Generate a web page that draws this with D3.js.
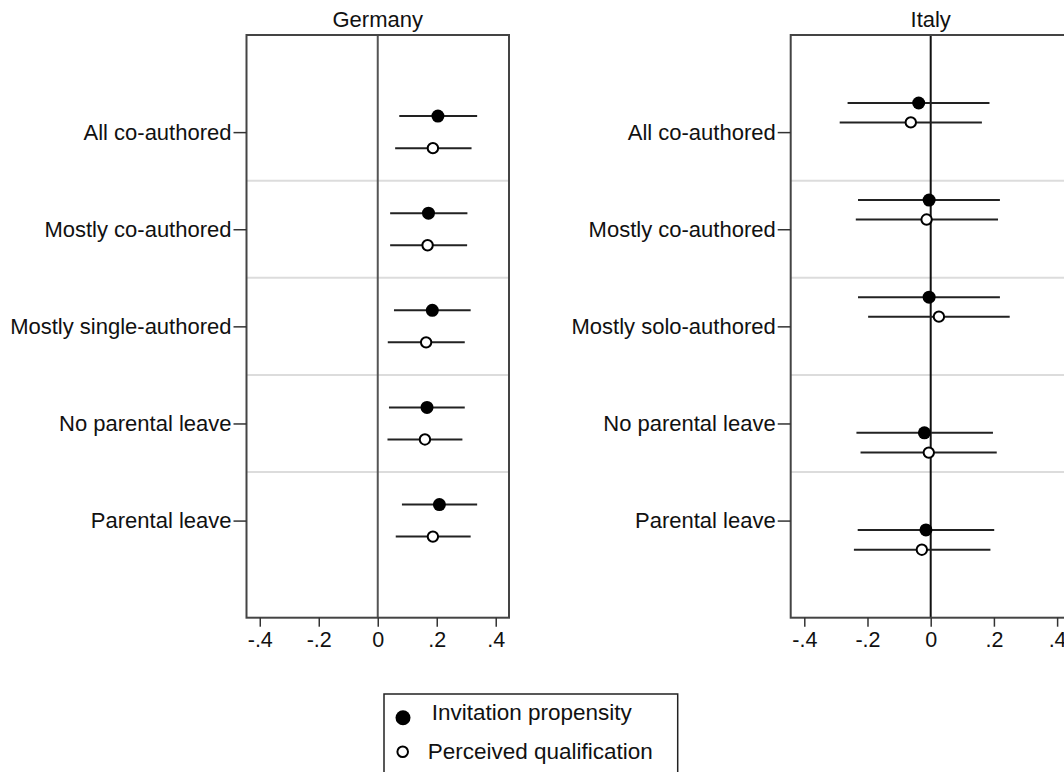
<!DOCTYPE html>
<html>
<head>
<meta charset="utf-8">
<script src="https://cdn.jsdelivr.net/npm/d3@7"></script>
<style>
  body { margin: 0; background: #fff; }
  svg { display: block; font-family: "Liberation Sans", Arial, sans-serif; }
</style>
</head>
<body>
<div id="chart"></div>
<script>
// categories
var catsGermany = ['All co-authored', 'Mostly co-authored', 'Mostly single-authored', 'No parental leave', 'Parental leave'];
var catsItaly = ['All co-authored', 'Mostly co-authored', 'Mostly solo-authored', 'No parental leave', 'Parental leave'];
var xTicks = [-0.4, -0.2, 0, 0.2, 0.4];
var seriesNames = ['Invitation propensity', 'Perceived qualification'];

// Germany: estimate, lower, upper
var deInvite = [0.204, 0.172, 0.185, 0.167, 0.209];
var deInviteLo = [0.073, 0.042, 0.055, 0.038, 0.082];
var deInviteHi = [0.337, 0.304, 0.315, 0.295, 0.337];
var deQual = [0.187, 0.169, 0.164, 0.160, 0.187];
var deQualLo = [0.059, 0.042, 0.034, 0.033, 0.061];
var deQualHi = [0.318, 0.303, 0.295, 0.287, 0.315];

// Italy: estimate, lower, upper
var itInvite = [-0.038, -0.005, -0.005, -0.020, -0.015];
var itInviteLo = [-0.263, -0.230, -0.230, -0.235, -0.231];
var itInviteHi = [0.186, 0.219, 0.219, 0.197, 0.201];
var itQual = [-0.063, -0.013, 0.026, -0.006, -0.028];
var itQualLo = [-0.288, -0.237, -0.198, -0.222, -0.243];
var itQualHi = [0.162, 0.213, 0.250, 0.209, 0.189];

var W = 1064, H = 772;
var svg = d3.select('#chart').append('svg')
    .attr('width', W)
    .attr('height', H);

var panels = [
    {
        title: 'Germany', cats: catsGermany,
        left: 246.5, right: 509, domain: [-0.445, 0.445],
        series: [
            {est: deInvite, lo: deInviteLo, hi: deInviteHi, filled: true, off: [-0.165, -0.165, -0.165, -0.165, -0.165]},
            {est: deQual, lo: deQualLo, hi: deQualHi, filled: false, off: [0.165, 0.165, 0.165, 0.165, 0.165]}
        ],
        zeroColor: '#555'
    },
    {
        title: 'Italy', cats: catsItaly,
        left: 790.7, right: 1070.7, domain: [-0.443, 0.443],
        series: [
            {est: itInvite, lo: itInviteLo, hi: itInviteHi, filled: true, off: [-0.30, -0.30, -0.30, 0.096, 0.096]},
            {est: itQual, lo: itQualLo, hi: itQualHi, filled: false, off: [-0.10, -0.10, -0.10, 0.30, 0.30]}
        ],
        zeroColor: '#111'
    }
];

var plotTop = 35, plotBottom = 617.7;
var y = d3.scaleLinear().domain([-1, 5]).range([plotTop, plotBottom]);
var fontFam = '"Liberation Sans", Arial, sans-serif';

panels.forEach(function(p) {
    var x = d3.scaleLinear().domain(p.domain).range([p.left, p.right]);
    var g = svg.append('g');

    // row separators
    g.selectAll('.sep')
        .data(d3.range(p.cats.length - 1))
        .enter().append('line')
        .attr('x1', p.left).attr('x2', p.right)
        .attr('y1', function(d) { return y(d + 0.5); })
        .attr('y2', function(d) { return y(d + 0.5); })
        .attr('stroke', '#dcdcdc')
        .attr('stroke-width', 2);

    // zero line
    g.append('line')
        .attr('x1', x(0)).attr('x2', x(0))
        .attr('y1', plotTop).attr('y2', plotBottom)
        .attr('stroke', p.zeroColor)
        .attr('stroke-width', 2);

    // frame
    g.append('rect')
        .attr('x', p.left).attr('y', plotTop)
        .attr('width', p.right - p.left).attr('height', plotBottom - plotTop)
        .attr('fill', 'none')
        .attr('stroke', '#444')
        .attr('stroke-width', 2);

    // title
    g.append('text')
        .attr('x', (p.left + p.right) / 2)
        .attr('y', 27)
        .attr('text-anchor', 'middle')
        .style('font-size', '22px')
        .attr('fill', '#111')
        .text(p.title);

    // y axis
    var yAxis = d3.axisLeft(y)
        .tickValues(d3.range(p.cats.length))
        .tickFormat(function(d) { return p.cats[d]; })
        .tickSize(13)
        .tickPadding(2);
    var ya = g.append('g')
        .attr('transform', 'translate(' + p.left + ',0)')
        .call(yAxis);
    ya.select('.domain').remove();
    ya.selectAll('line').attr('stroke', '#333').attr('stroke-width', 1.5);
    ya.selectAll('text').style('font-size', '22px').attr('fill', '#111').attr('font-family', fontFam);

    // x axis
    var xAxis = d3.axisBottom(x)
        .tickValues(xTicks)
        .tickFormat(function(d) { return d === 0 ? '0' : d3.format('.1f')(d).replace('0.', '.').replace('\u2212', '-'); })
        .tickSize(9)
        .tickPadding(5);
    var xa = g.append('g')
        .attr('transform', 'translate(0,' + plotBottom + ')')
        .call(xAxis);
    xa.select('.domain').remove();
    xa.selectAll('line').attr('stroke', '#333').attr('stroke-width', 1.5);
    xa.selectAll('text').style('font-size', '21.5px').attr('fill', '#111').attr('font-family', fontFam);

    // CIs and points
    p.series.forEach(function(s) {
        var rows = d3.range(p.cats.length);
        g.selectAll(null)
            .data(rows)
            .enter().append('line')
            .attr('x1', function(i) { return x(s.lo[i]); })
            .attr('x2', function(i) { return x(s.hi[i]); })
            .attr('y1', function(i) { return y(i + s.off[i]); })
            .attr('y2', function(i) { return y(i + s.off[i]); })
            .attr('stroke', '#222')
            .attr('stroke-width', 2);
        g.selectAll(null)
            .data(rows)
            .enter().append('circle')
            .attr('cx', function(i) { return x(s.est[i]); })
            .attr('cy', function(i) { return y(i + s.off[i]); })
            .attr('r', s.filled ? 6.5 : 5.2)
            .attr('fill', s.filled ? '#000' : '#fff')
            .attr('stroke', '#000')
            .attr('stroke-width', s.filled ? 0 : 2);
    });
});

// legend
var leg = svg.append('g');
leg.append('rect')
    .attr('x', 384).attr('y', 694)
    .attr('width', 293.7).attr('height', 100)
    .attr('fill', '#fff')
    .attr('stroke', '#222')
    .attr('stroke-width', 1.5);
leg.append('circle')
    .attr('cx', 403).attr('cy', 717.7).attr('r', 7.5)
    .attr('fill', '#000');
leg.append('text')
    .attr('x', 431.7).attr('y', 720)
    .style('font-size', '22.5px').attr('fill', '#111')
    .text(seriesNames[0]);
leg.append('circle')
    .attr('cx', 402.7).attr('cy', 751.7).attr('r', 5.3)
    .attr('fill', '#fff').attr('stroke', '#000').attr('stroke-width', 2);
leg.append('text')
    .attr('x', 427.7).attr('y', 759)
    .style('font-size', '22.5px').attr('fill', '#111')
    .text(seriesNames[1]);
</script>
</body>
</html>
